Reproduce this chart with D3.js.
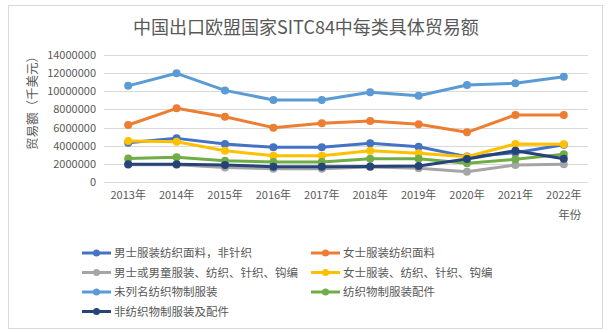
<!DOCTYPE html>
<html>
<head>
<meta charset="utf-8">
<script src="https://cdn.jsdelivr.net/npm/d3@7/dist/d3.min.js"></script>
<style>
  html, body { margin: 0; padding: 0; background: #fff; }
  svg { display: block; font-family: "Noto Sans CJK SC", "Noto Sans", sans-serif; }
</style>
</head>
<body>
<svg id="chart" width="609" height="333"></svg>
<script>
// years on the x axis
const years = ["2013年", "2014年", "2015年", "2016年", "2017年", "2018年", "2019年", "2020年", "2021年", "2022年"];
const yTicks = [0, 2000000, 4000000, 6000000, 8000000, 10000000, 12000000, 14000000];

// series values (千美元)
const menWoven   = [4330000, 4810000, 4190000, 3820000, 3820000, 4260000, 3890000, 2800000, 3230000, 4100000];
const womenWoven = [6280000, 8120000, 7200000, 5990000, 6470000, 6720000, 6360000, 5480000, 7390000, 7390000];
const menKnit    = [1900000, 1900000, 1600000, 1450000, 1450000, 1650000, 1510000, 1140000, 1870000, 1950000];
const womenKnit  = [4520000, 4440000, 3450000, 2900000, 2900000, 3450000, 3160000, 2790000, 4190000, 4150000];
const otherWear  = [10600000, 11980000, 10100000, 9040000, 9050000, 9890000, 9510000, 10700000, 10880000, 11600000];
const accessory  = [2600000, 2720000, 2350000, 2200000, 2200000, 2570000, 2570000, 2060000, 2500000, 3050000];
const nonTextile = [1950000, 1950000, 1870000, 1690000, 1690000, 1720000, 1760000, 2540000, 3450000, 2570000];

const seriesNames = [
  "男士服装纺织面料，非针织", "女士服装纺织面料",
  "男士或男童服装、纺织、针织、钩编", "女士服装、纺织、针织、钩编",
  "未列名纺织物制服装", "纺织物制服装配件",
  "非纺织物制服装及配件"
];
const seriesValues = [menWoven, womenWoven, menKnit, womenKnit, otherWear, accessory, nonTextile];
const colors = ["#4472C4", "#ED7D31", "#A5A5A5", "#FFC000", "#5B9BD5", "#70AD47", "#264478"];

const svg = d3.select("#chart");
const textCol = "#595959";

// outer frame
svg.append("rect")
  .attr("x", 8.5).attr("y", 5.5).attr("width", 594).attr("height", 323)
  .attr("fill", "#fff").attr("stroke", "#d9d9d9").attr("stroke-width", 1);

// title
svg.append("text")
  .attr("x", 306).attr("y", 34)
  .attr("text-anchor", "middle")
  .attr("font-size", 18).attr("fill", textCol)
  .text("中国出口欧盟国家SITC84中每类具体贸易额");

const x = d3.scaleBand().domain(years).range([104, 588]);
const y = d3.scaleLinear().domain([0, 14000000]).range([182, 55]);

// gridlines
svg.append("g")
  .selectAll("line").data(yTicks).join("line")
  .attr("x1", 104).attr("x2", 588)
  .attr("y1", d => Math.round(y(d)) + 0.5).attr("y2", d => Math.round(y(d)) + 0.5)
  .attr("stroke", "#d9d9d9").attr("stroke-width", 1);

// y axis labels
const yAxis = svg.append("g")
  .attr("transform", "translate(104,0)")
  .call(d3.axisLeft(y).tickValues(yTicks).tickFormat(d3.format("d")).tickSize(0).tickPadding(8));
yAxis.select(".domain").remove();
yAxis.selectAll("text").attr("font-size", 11).attr("fill", textCol)
  .attr("font-family", "\"Noto Sans CJK SC\", sans-serif");

// x axis labels
const xAxis = svg.append("g")
  .attr("transform", "translate(0,182)")
  .call(d3.axisBottom(x).tickSize(0).tickPadding(9));
xAxis.select(".domain").remove();
xAxis.selectAll("text").attr("font-size", 11).attr("fill", textCol)
  .attr("font-family", "\"Noto Sans CJK SC\", sans-serif");

// axis titles
svg.append("text")
  .attr("transform", "translate(37,100) rotate(-90)")
  .attr("text-anchor", "middle")
  .attr("font-size", 12.5).attr("fill", textCol)
  .text("贸易额（千美元）");
svg.append("text")
  .attr("x", x("2022年") + x.bandwidth() / 2 + 6).attr("y", 219)
  .attr("text-anchor", "middle")
  .attr("font-size", 11.5).attr("fill", textCol)
  .text("年份");

// lines + markers
const cx = d => x(d) + x.bandwidth() / 2;
const line = d3.line().x((v, i) => cx(years[i])).y(v => y(v));
const gSeries = svg.append("g");
seriesValues.forEach((vals, s) => {
  const g = gSeries.append("g");
  g.append("path")
    .datum(vals)
    .attr("d", line)
    .attr("fill", "none")
    .attr("stroke", colors[s])
    .attr("stroke-width", 3)
    .attr("stroke-linejoin", "round");
  g.selectAll("circle").data(vals).join("circle")
    .attr("cx", (v, i) => cx(years[i]))
    .attr("cy", v => y(v))
    .attr("r", 4)
    .attr("fill", colors[s]);
});

// legend, two columns
const legX = [82, 311];
const legY0 = 253, legDY = 19.5;
const legend = svg.append("g");
seriesNames.forEach((name, i) => {
  const col = i % 2, row = Math.floor(i / 2);
  const gx = legX[col], gy = legY0 + row * legDY;
  const g = legend.append("g").attr("transform", `translate(${gx},${gy})`);
  g.append("line").attr("x1", 0).attr("x2", 29).attr("y1", 0).attr("y2", 0)
    .attr("stroke", colors[i]).attr("stroke-width", 3);
  g.append("circle").attr("cx", 14.5).attr("cy", 0).attr("r", 3.5).attr("fill", colors[i]);
  g.append("text").attr("x", 32).attr("y", 4)
    .attr("font-size", 11.5).attr("fill", textCol)
    .text(name);
});
</script>
</body>
</html>
